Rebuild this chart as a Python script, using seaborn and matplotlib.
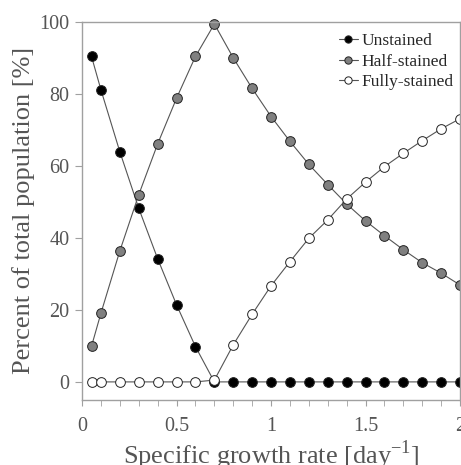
import numpy as np
import pandas as pd
import matplotlib
matplotlib.use("Agg")
import matplotlib.pyplot as plt
import seaborn as sns

# -----------------------
# Data
# -----------------------
growth_rate = [0.05, 0.1, 0.2, 0.3, 0.4, 0.5, 0.6, 0.7, 0.8, 0.9, 1.0,
               1.1, 1.2, 1.3, 1.4, 1.5, 1.6, 1.7, 1.8, 1.9, 2.0]
unstained = [90.4, 81.1, 63.9, 48.2, 34.2, 21.4, 9.8, 0.0, 0.0, 0.0, 0.0,
             0.0, 0.0, 0.0, 0.0, 0.0, 0.0, 0.0, 0.0, 0.0, 0.0]
half_stained = [9.9, 19.1, 36.4, 52.0, 66.1, 78.8, 90.4, 99.4, 90.0, 81.5, 73.7,
                66.8, 60.4, 54.8, 49.4, 44.7, 40.6, 36.7, 33.1, 30.2, 26.9]
fully_stained = [0.0, 0.0, 0.0, 0.0, 0.0, 0.0, 0.0, 0.5, 10.3, 18.8, 26.7,
                 33.4, 39.9, 45.0, 50.8, 55.5, 59.8, 63.5, 67.0, 70.3, 73.1]

series = [
    ("Unstained", unstained, "black"),
    ("Half-stained", half_stained, "#808080"),
    ("Fully-stained", fully_stained, "white"),
]

df = pd.DataFrame({"rate": growth_rate})
for name, vals, _ in series:
    df[name] = vals

# -----------------------
# Style
# -----------------------
sns.set_style("ticks")
plt.rcParams["font.family"] = ["Liberation Serif", "DejaVu Serif"]
plt.rcParams["mathtext.fontset"] = "custom"
plt.rcParams["mathtext.rm"] = "Liberation Serif"

AXIS_GREY = "#a0a0a0"
TEXT_GREY = "#555555"

fig = plt.figure(figsize=(4.61, 4.65), dpi=100)
ax = fig.add_axes([0.178, 0.140, 0.820, 0.813])

for name, _, face in series:
    sns.lineplot(data=df, x="rate", y=name, ax=ax, color="#555555", lw=0.8,
                 marker="o", markersize=7, markerfacecolor=face,
                 markeredgecolor="#222222", markeredgewidth=0.7,
                 label=name, clip_on=False)

ax.set_xlim(0, 2)
ax.set_ylim(-5, 100)
ax.set_xticks([0, 0.5, 1, 1.5, 2])
ax.set_xticklabels(["0", "0.5", "1", "1.5", "2"])
ax.set_xticks(np.arange(0, 2.01, 0.1), minor=True)
ax.set_yticks([0, 20, 40, 60, 80, 100])

for side in ["left", "bottom", "top", "right"]:
    ax.spines[side].set_color(AXIS_GREY)
    ax.spines[side].set_linewidth(1.0)

ax.tick_params(axis="both", which="both", direction="out", color=AXIS_GREY,
               labelcolor=TEXT_GREY, labelsize=14.5)
ax.tick_params(axis="x", which="major", length=4, pad=8)
ax.tick_params(axis="x", which="minor", length=4)
ax.tick_params(axis="y", which="major", length=5, pad=4)

ax.set_xlabel("Specific growth rate [day$^{-1}$]", fontsize=19, color=TEXT_GREY,
              labelpad=2)
ax.set_ylabel("Percent of total population [%]", fontsize=19, color=TEXT_GREY,
              labelpad=3)

leg = ax.legend(loc="upper right", bbox_to_anchor=(1.012, 1.0), frameon=False,
                fontsize=12.5, handlelength=1.1, handletextpad=0.2,
                labelspacing=0.25, markerscale=0.75, borderaxespad=0.25)

fig.savefig("out.png", dpi=100)
